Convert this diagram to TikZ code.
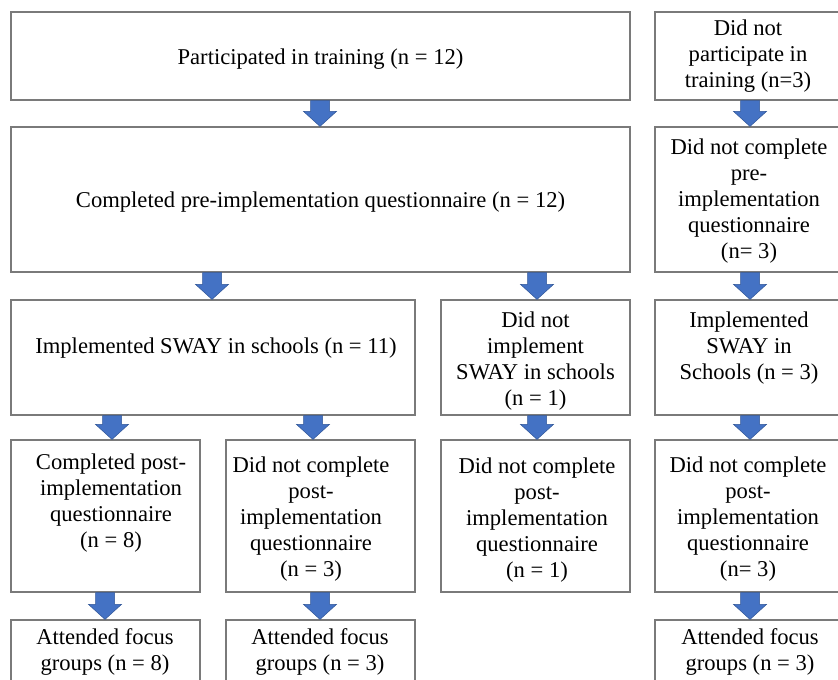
\documentclass[tikz,border=0pt]{standalone}
\usepackage{fontspec}
\setmainfont{Liberation Serif}
\usetikzlibrary{calc}
\definecolor{boxline}{HTML}{7A7A7A}
\definecolor{arrfill}{HTML}{4472C4}
\definecolor{arrline}{HTML}{2F5597}
\tikzset{
  flowbox/.style={draw=boxline, line width=1.2pt, fill=white, inner sep=0pt, minimum width=#1},
  txt/.style={inner sep=0pt, align=center, font=\fontsize{22.6}{26}\selectfont, yshift=-3pt},
  blockarr/.style={fill=arrfill, draw=arrline, line width=0.5pt, line join=miter}
}
\newcommand\blockarrow[3]{%
  \filldraw[blockarr] let \p1=(#2.south), \p2=(#3.north) in
    (#1pt-9.5pt,\y1) -- (#1pt+9.5pt,\y1) -- (#1pt+9.5pt,\y2+15pt) -- (#1pt+16.5pt,\y2+15pt)
    -- (#1pt,\y2) -- (#1pt-16.5pt,\y2+15pt) -- (#1pt-9.5pt,\y2+15pt) -- cycle;}
\begin{document}
\begin{tikzpicture}[x=1pt,y=-1pt]
\useasboundingbox (0,0) rectangle (838,680);
\clip (0,0) rectangle (838,680);
\fill[white] (0,0) rectangle (838,680);
% boxes
\node[flowbox=619pt, minimum height=88pt]  (A)  at (320.5,56) {};
\node[flowbox=190pt, minimum height=88pt]  (B)  at (750,56) {};
\node[flowbox=619pt, minimum height=145pt] (C)  at (320.5,199.5) {};
\node[flowbox=190pt, minimum height=145pt] (D)  at (750,199.5) {};
\node[flowbox=404pt, minimum height=115pt] (E)  at (213,357.5) {};
\node[flowbox=189pt, minimum height=115pt] (F)  at (535.5,357.5) {};
\node[flowbox=190pt, minimum height=115pt] (G)  at (750,357.5) {};
\node[flowbox=189pt, minimum height=152pt] (H)  at (105.5,516) {};
\node[flowbox=189pt, minimum height=152pt] (I)  at (320.5,516) {};
\node[flowbox=189pt, minimum height=152pt] (J)  at (535.5,516) {};
\node[flowbox=190pt, minimum height=152pt] (K)  at (750,516) {};
\node[flowbox=189pt, minimum height=80pt]  (H2) at (105.5,660) {};
\node[flowbox=189pt, minimum height=80pt]  (I2) at (320.5,660) {};
\node[flowbox=190pt, minimum height=80pt]  (K2) at (750,660) {};
% texts
\node[txt] (tA) at (320.5,56) {Participated in training (n = 12)};
\node[txt] (tB) at (748,53) {Did not\\participate in\\training (n=3)};
\node[txt] (tC) at (320.5,199.5) {Completed pre-implementation questionnaire (n = 12)};
\node[txt] (tD) at (749,198.5) {Did not complete\\pre-\\implementation\\questionnaire\\(n= 3)};
\node[txt] (tE) at (216,345) {Implemented SWAY in schools (n = 11)};
\node[txt] (tF) at (535.5,358) {Did not\\implement\\SWAY in schools\\(n = 1)};
\node[txt] (tG) at (749,345) {Implemented\\SWAY in\\Schools (n = 3)};
\node[txt] (tH) at (111,500) {Completed post-\\implementation\\questionnaire\\(n = 8)};
\node[txt] (tI) at (311,516.5) {Did not complete\\post-\\implementation\\questionnaire\\(n = 3)};
\node[txt] (tJ) at (537,517) {Did not complete\\post-\\implementation\\questionnaire\\(n = 1)};
\node[txt] (tK) at (748,516.5) {Did not complete\\post-\\implementation\\questionnaire\\(n= 3)};
\node[txt] (tH2) at (105,649) {Attended focus\\groups (n = 8)};
\node[txt] (tI2) at (320,649) {Attended focus\\groups (n = 3)};
\node[txt] (tK2) at (750,649) {Attended focus\\groups (n = 3)};
% arrows
\blockarrow{320}{A}{C}
\blockarrow{750}{B}{D}
\blockarrow{212}{C}{E}
\blockarrow{537}{C}{F}
\blockarrow{750}{D}{G}
\blockarrow{112}{E}{H}
\blockarrow{313}{E}{I}
\blockarrow{537}{F}{J}
\blockarrow{750}{G}{K}
\blockarrow{105}{H}{H2}
\blockarrow{320}{I}{I2}
\blockarrow{750}{K}{K2}
\end{tikzpicture}
\end{document}
